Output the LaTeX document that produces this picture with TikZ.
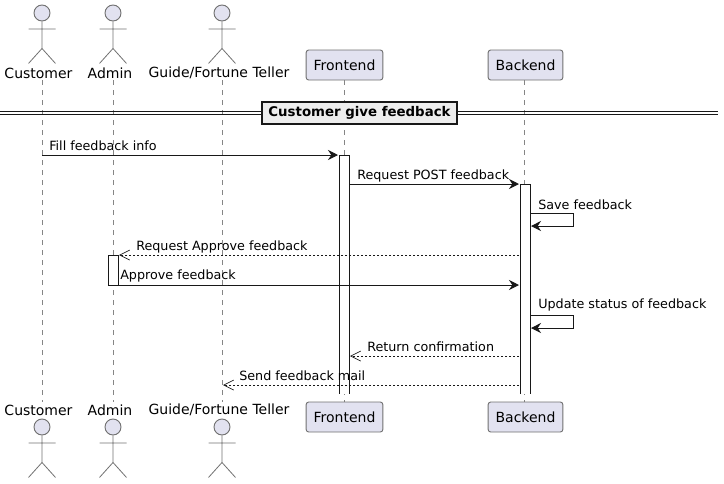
\documentclass[tikz,border=0pt]{standalone}
\usepackage{fontspec}
\setmainfont{DejaVu Sans}
\usetikzlibrary{arrows.meta}
\definecolor{partfill}{HTML}{E2E2F0}
\definecolor{partline}{HTML}{707070}
\definecolor{msgline}{HTML}{181818}
\tikzset{
  box/.style={draw=partline,fill=partfill,rounded corners=1.9pt,line width=0.7pt,minimum width=#1,minimum height=22.5pt,inner sep=0pt,font=\fontsize{10.5pt}{12pt}\selectfont},
  head/.style={circle,draw=partline,fill=partfill,line width=0.7pt,minimum size=12pt,inner sep=0pt},
  actorname/.style={inner sep=0pt,minimum height=13pt,font=\fontsize{10.5pt}{12pt}\selectfont},
  msg/.style={anchor=west,inner sep=0pt,font=\fontsize{9.55pt}{12pt}\selectfont},
  life/.style={draw=partline!85,line width=0.7pt,dash pattern=on 3.75pt off 3.75pt},
  bar/.style={fill=white,minimum width=7.5pt,inner sep=0pt},
  barline/.style={draw=msgline,line width=0.75pt},
  call/.style={draw=msgline,line width=0.75pt,-{Stealth[length=7.5pt,width=7.5pt,inset=2.5pt]}},
  back/.style={draw=msgline,line width=0.5pt,dash pattern=on 1.5pt off 1.5pt,-{Straight Barb[length=7.5pt,width=7.5pt]}}
}
\begin{document}
\begin{tikzpicture}[x=0.75pt,y=-0.75pt]
  \useasboundingbox (0,0) rectangle (724,483);
  % life lines
  \coordinate (c1) at (42,80);
  \coordinate (c2) at (42,402);
  \coordinate (a1) at (113,80);
  \coordinate (a2) at (113,402);
  \coordinate (g1) at (222,80);
  \coordinate (g2) at (222,402);
  \coordinate (f1) at (344,80);
  \coordinate (f2) at (344,402);
  \coordinate (b1) at (524,80);
  \coordinate (b2) at (524,402);
  \foreach \a/\b in {c1/c2,a1/a2,g1/g2,f1/f2,b1/b2}
    \draw[life] (\a) to (\b);
  \draw
    (38.5,73) node[actorname] (customer){Customer}
    (110,73) node[actorname] (admin){Admin}
    (219,73) node[actorname] (guide){Guide/Fortune Teller}
    (344.5,65) node[box=57.5pt] (frontend){Frontend}
    (525.5,65) node[box=56pt] (backend){Backend}
    (38.5,410) node[actorname] (customerb){Customer}
    (110,410) node[actorname] (adminb){Admin}
    (219,410) node[actorname] (guideb){Guide/Fortune Teller}
    (344.5,417) node[box=57.5pt] (frontendb){Frontend}
    (525.5,417) node[box=56pt] (backendb){Backend};
  % stick figures
  \foreach \x/\n in {42/ca,113/aa,222/ga}{
    \foreach \y/\m in {13/t,427/u}{
      \node[head] (\n\m) at (\x,\y) {};
      \draw[partline,line width=0.6pt] (\n\m.south) -- ++(0,27)
        ++(-13.5,15) -- ++(13.5,-15) -- ++(13.5,15)
        (\x-13.5,\y+16) -- ++(27,0);
    }
  }
  % divider
  \coordinate (d1) at (0,111.5);
  \coordinate (d2) at (718,111.5);
  \coordinate (d3) at (0,114.5);
  \coordinate (d4) at (718,114.5);
  \draw[msgline,line width=0.75pt] (d1) to (d2);
  \draw[msgline,line width=0.75pt] (d3) to (d4);
  \node[draw=msgline,fill=black!7,line width=1.2pt,minimum width=146.5pt,minimum height=16.5pt,inner sep=0pt,font=\fontsize{10pt}{12pt}\selectfont\bfseries] (group) at (359.5,113) {Customer give feedback};
  % activations, open at the lower end of the two long ones
  \node[bar,minimum height=178.5pt] (fbar) at (344.5,274.5) {};
  \node[bar,minimum height=157pt] (bbar) at (525.3,289.3) {};
  \node[bar,draw=msgline,line width=0.75pt,minimum height=22.5pt] (abar) at (113,270) {};
  \draw[barline] (fbar.south west) |- (fbar.north east) -- (fbar.south east);
  \draw[barline] (bbar.south west) |- (bbar.north east) -- (bbar.south east);
  % messages
  \coordinate (m1) at (42,155);
  \coordinate (m2) at (338,155);
  \coordinate (m3) at (349.5,184);
  \coordinate (m4) at (519,184);
  \coordinate (m5) at (530,213);
  \coordinate (m6) at (531,226);
  \coordinate (m7) at (519,255);
  \coordinate (m8) at (119,255);
  \coordinate (m9) at (118,285);
  \coordinate (m10) at (519,285);
  \coordinate (m11) at (530,315);
  \coordinate (m12) at (531,328);
  \coordinate (m13) at (519,356);
  \coordinate (m14) at (350,356);
  \coordinate (m15) at (519,385);
  \coordinate (m16) at (223,385);
  \begin{scope}[call]
    \draw (m1) to (m2);
    \draw (m3) to (m4);
    \draw (m5) -- ++(43,0) |- (m6);
    \draw (m9) to (m10);
    \draw (m11) -- ++(43,0) |- (m12);
  \end{scope}
  \begin{scope}[back]
    \draw (m7) to (m8);
    \draw (m13) to (m14);
    \draw (m15) to (m16);
  \end{scope}
  \node[msg] (t1) at (49,145.7) {Fill feedback info};
  \node[msg] (t2) at (357,175.7) {Request POST feedback};
  \node[msg] (t3) at (538,204.7) {Save feedback};
  \node[msg] (t4) at (136,246.7) {Request Approve feedback};
  \node[msg] (t5) at (120,275.7) {Approve feedback};
  \node[msg] (t6) at (538,304.7) {Update status of feedback};
  \node[msg] (t7) at (367,346.7) {Return confirmation};
  \node[msg] (t8) at (239,375.7) {Send feedback mail};
\end{tikzpicture}
\end{document}
